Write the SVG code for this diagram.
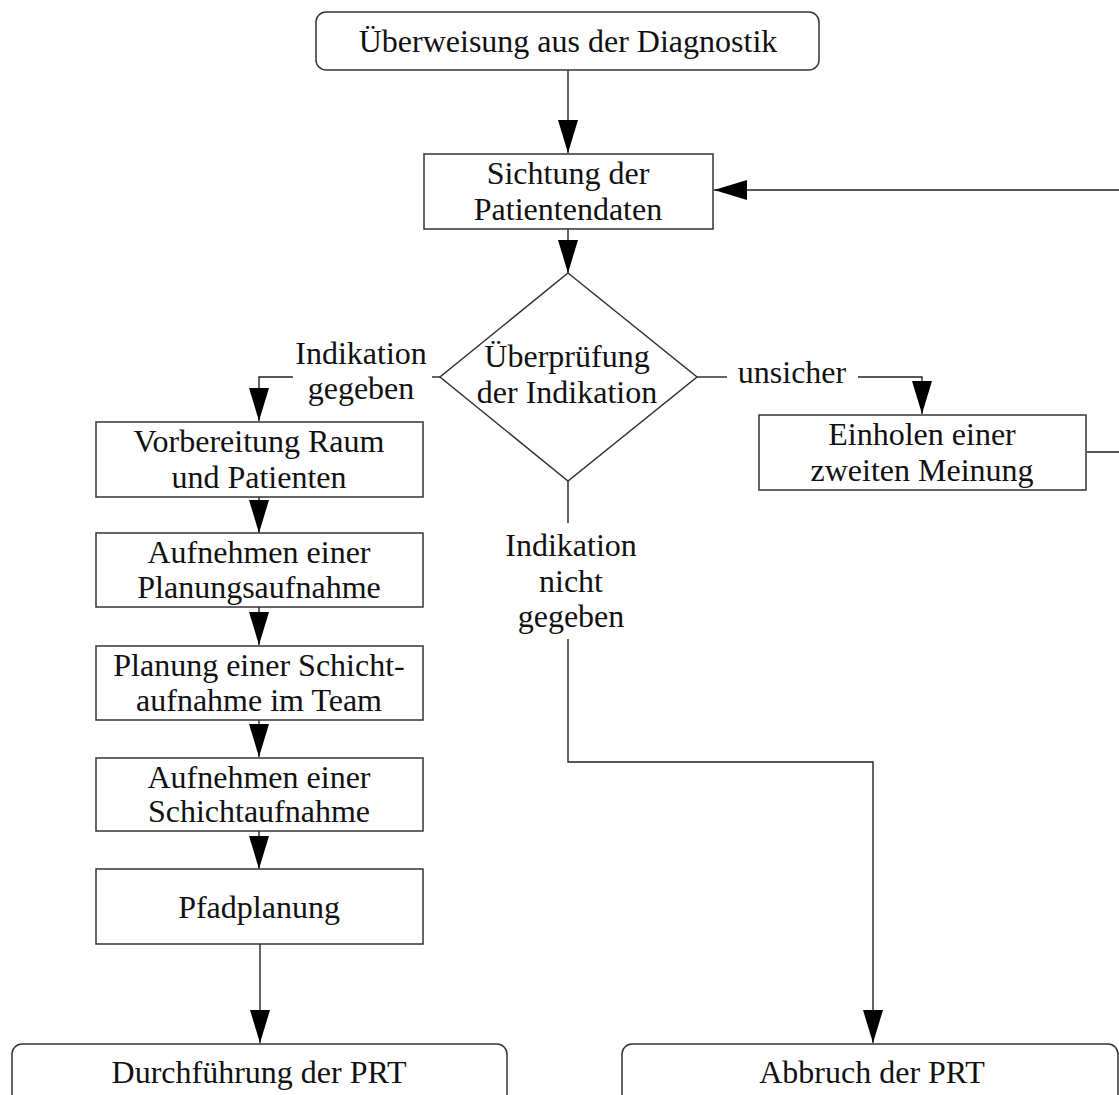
<svg xmlns="http://www.w3.org/2000/svg" width="1119" height="1095" viewBox="0 0 1119 1095">
  <style>
    .box { fill: #ffffff; stroke: #333333; stroke-width: 1.5; }
    .t { font-family: "Liberation Serif", "Times New Roman", serif; font-size: 32px; fill: #111111; text-anchor: middle; }
    .c { fill: none; stroke: #222222; stroke-width: 1.4; }
  </style>
  <defs>
    <marker id="ah" markerUnits="userSpaceOnUse" markerWidth="34" markerHeight="22" refX="33" refY="10" orient="auto">
      <path d="M0,0 L33,10 L0,20 Z" fill="#000000"/>
    </marker>
  </defs>
  <rect width="1119" height="1095" fill="#ffffff"/>

  <g id="connectors">
    <path class="c" d="M568,70 V153" marker-end="url(#ah)"/>
    <path class="c" d="M568,229 V273" marker-end="url(#ah)"/>
    <path class="c" d="M440,377 H432"/>
    <path class="c" d="M293,377 H259 V421" marker-end="url(#ah)"/>
    <path class="c" d="M259,497 V533" marker-end="url(#ah)"/>
    <path class="c" d="M259,607 V645" marker-end="url(#ah)"/>
    <path class="c" d="M259,720 V757" marker-end="url(#ah)"/>
    <path class="c" d="M259,831 V869" marker-end="url(#ah)"/>
    <path class="c" d="M260,944 V1043" marker-end="url(#ah)"/>
    <path class="c" d="M697,377 H727"/>
    <path class="c" d="M858,377 H922 V414" marker-end="url(#ah)"/>
    <path class="c" d="M1087,452 H1140 V190 H714" marker-end="url(#ah)"/>
    <path class="c" d="M568,481 V523"/>
    <path class="c" d="M568,639 V762 H873 V1043" marker-end="url(#ah)"/>
    <text class="t" x="361" y="364">Indikation</text>
    <text class="t" x="361" y="399">gegeben</text>
    <text class="t" x="792" y="383">unsicher</text>
    <text class="t" x="571" y="556">Indikation</text>
    <text class="t" x="571" y="592">nicht</text>
    <text class="t" x="571" y="627">gegeben</text>
  </g>

  <g id="start">
    <rect class="box" x="316" y="12" width="503" height="58" rx="10"/>
    <text class="t" x="568" y="52">Überweisung aus der Diagnostik</text>
  </g>
  <g id="sichtung">
    <rect class="box" x="424" y="154" width="289" height="75"/>
    <text class="t" x="568" y="184">Sichtung der</text>
    <text class="t" x="568" y="220">Patientendaten</text>
  </g>
  <g id="ueberpruefung">
    <polygon class="box" points="568,273 697,377 568,481 440,377"/>
    <text class="t" x="567" y="367">Überprüfung</text>
    <text class="t" x="567" y="403">der Indikation</text>
  </g>
  <g id="einholen">
    <rect class="box" x="759" y="415" width="327" height="75"/>
    <text class="t" x="922" y="445">Einholen einer</text>
    <text class="t" x="922" y="481">zweiten Meinung</text>
  </g>
  <g id="vorbereitung">
    <rect class="box" x="96" y="422" width="327" height="75"/>
    <text class="t" x="259" y="452">Vorbereitung Raum</text>
    <text class="t" x="259" y="488">und Patienten</text>
  </g>
  <g id="planungsaufnahme">
    <rect class="box" x="96" y="533" width="327" height="74"/>
    <text class="t" x="259" y="563">Aufnehmen einer</text>
    <text class="t" x="259" y="598">Planungsaufnahme</text>
  </g>
  <g id="planung-schicht">
    <rect class="box" x="96" y="646" width="327" height="74"/>
    <text class="t" x="259" y="676">Planung einer Schicht-</text>
    <text class="t" x="259" y="711">aufnahme im Team</text>
  </g>
  <g id="schichtaufnahme">
    <rect class="box" x="96" y="758" width="327" height="73"/>
    <text class="t" x="259" y="788">Aufnehmen einer</text>
    <text class="t" x="259" y="822">Schichtaufnahme</text>
  </g>
  <g id="pfadplanung">
    <rect class="box" x="96" y="869" width="327" height="75"/>
    <text class="t" x="259" y="918">Pfadplanung</text>
  </g>
  <g id="durchfuehrung">
    <rect class="box" x="12" y="1044" width="495" height="80" rx="10"/>
    <text class="t" x="259" y="1083">Durchführung der PRT</text>
  </g>
  <g id="abbruch">
    <rect class="box" x="622" y="1044" width="496" height="80" rx="10"/>
    <text class="t" x="872" y="1083">Abbruch der PRT</text>
  </g>
</svg>
